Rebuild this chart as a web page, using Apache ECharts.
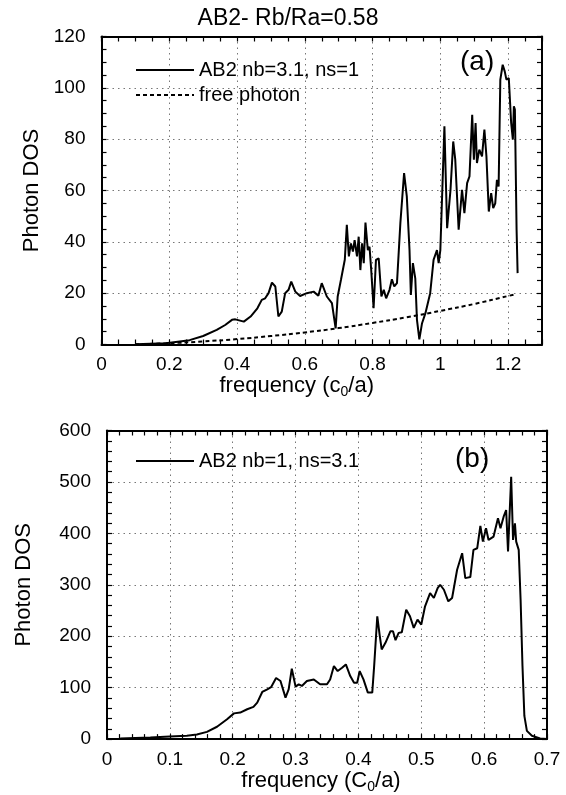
<!DOCTYPE html>
<html>
<head>
<meta charset="utf-8">
<script src="https://cdn.jsdelivr.net/npm/echarts@6/dist/echarts.min.js"></script>
<style>
html,body{margin:0;padding:0;background:#fff;}
#chart{width:566px;height:795px;}
</style>
</head>
<body>
<div id="chart"></div>
<script>
// ---- Data ----
var titleText = 'AB2- Rb/Ra=0.58';

// panel (a)
var freqA = [0.10,0.19,0.26,0.30,0.34,0.365,0.385,0.395,0.42,0.44,0.46,0.473,0.483,0.493,0.503,0.513,0.522,0.532,0.542,0.552,0.56,0.572,0.586,0.606,0.626,0.64,0.65,0.665,0.68,0.691,0.697,0.707,0.718,0.724,0.73,0.736,0.742,0.747,0.754,0.759,0.764,0.769,0.774,0.779,0.786,0.791,0.796,0.803,0.81,0.818,0.826,0.833,0.84,0.85,0.857,0.864,0.872,0.882,0.893,0.901,0.909,0.913,0.919,0.926,0.931,0.938,0.946,0.956,0.97,0.98,0.99,0.995,1.0,1.012,1.02,1.03,1.038,1.044,1.054,1.064,1.071,1.079,1.086,1.094,1.099,1.104,1.108,1.115,1.123,1.13,1.136,1.143,1.15,1.156,1.162,1.167,1.172,1.177,1.184,1.19,1.195,1.202,1.209,1.214,1.217,1.22,1.225,1.228];
var dosA = [0.1,0.5,1.7,3.3,5.7,7.6,9.6,9.8,8.9,10.9,14.1,17.4,18,20,24.1,22.6,10.9,12.8,20,21.3,24.5,20.6,18.9,20,20.6,19,23.9,18.7,16.1,6.3,18.7,25.4,33,46.6,34.3,39.4,36.2,40.7,34.3,42,29,39.4,31.7,47.5,36.8,38.1,29,14.1,33,33.6,18.7,21.3,18,21.3,25.4,22.6,23.9,47.3,66.8,57.7,36.8,19.3,31.7,25.8,9.6,2,8.3,12.2,20,33,36.8,31.7,36.8,85,45.3,60.3,79.1,72,44.7,60.3,51.2,62.9,65.5,89.5,72,86.3,70.7,75.9,73.3,83.7,73.3,51.8,59,53.1,55,64.2,61.6,103.2,109,106.4,103.2,103.8,86.3,79.8,92.8,91.5,44.7,27.8];
var freeFreq = [0.10,0.2,0.3,0.4,0.5,0.6,0.7,0.8,0.9,1.0,1.1,1.2,1.22];
var freeDos  = [0.1,0.5,1.2,2.1,3.3,4.7,6.4,8.4,10.6,13.1,15.8,18.9,19.5];

// panel (b)
var freqB = [0.021,0.069,0.1,0.127,0.143,0.159,0.175,0.191,0.202,0.204,0.212,0.223,0.233,0.239,0.247,0.255,0.261,0.269,0.276,0.284,0.289,0.294,0.3,0.305,0.31,0.318,0.329,0.339,0.35,0.355,0.361,0.367,0.374,0.38,0.387,0.393,0.398,0.402,0.408,0.415,0.422,0.425,0.43,0.434,0.437,0.443,0.451,0.455,0.459,0.464,0.469,0.476,0.482,0.488,0.494,0.5,0.506,0.514,0.52,0.526,0.53,0.536,0.543,0.549,0.557,0.565,0.57,0.578,0.583,0.589,0.594,0.598,0.603,0.607,0.615,0.622,0.626,0.631,0.635,0.638,0.643,0.646,0.649,0.651,0.655,0.658,0.661,0.664,0.668,0.676,0.689,0.7];
var dosB = [1.3,3.2,5,6.5,9,14,24,38.7,50,51.6,51.6,58,62.6,71,91.6,96.8,101,118.8,113,80.7,96.8,136.8,102,106.5,103.3,113,116,106.5,106.5,116,142,132.3,138.8,145.2,122.6,109.7,109.7,132.3,116,90.4,90.4,142,238.8,200,174.3,187.2,209.8,209.8,192.3,206.5,207.8,251.7,238.8,216.2,232.3,222.7,258.2,284,274.3,293.7,300.1,290.4,267.8,274.3,329.2,361.4,313,315,367.9,371.1,414.3,384,409.8,387.2,393.7,429.2,409.8,432.4,445.3,364.6,509.9,387.2,419.5,384,367.9,271,142,45,16,6.5,1.3,0];

var nameA = 'AB2 nb=3.1, ns=1';
var nameFree = 'free photon';
var nameB = 'AB2 nb=1, ns=3.1';

// ---- Chart ----
function zip(xs, ys){ var out=[]; for(var i=0;i<xs.length;i++) out.push([xs[i], ys[i]]); return out; }

var FONT = '"Liberation Sans", Arial, Helvetica, sans-serif';
var grids = [
  {left:101.5, top:36.5, width:440.5, height:308},
  {left:107, top:430.5, width:440, height:309.5}
];
var xr = [{max:1.3, major:0.2, minor:0.05}, {max:0.7, major:0.1, minor:0.02}];
var yr = [{max:120, major:20, minor:5}, {max:600, major:100, minor:20}];

var splitStyle = {show:true, lineStyle:{color:'#777', width:1, type:[1.5,4]}};
var axisLineStyle = {show:true, onZero:false, lineStyle:{color:'#000', width:2}};
var tickStyle = {show:true, inside:true, length:5, lineStyle:{color:'#000', width:1.2}};

var xAxes = [], yAxes = [];
[0,1].forEach(function(g){
  var xmax = xr[g].max;
  var xnames = [
    {rich:'{a|frequency (c}{s|0}{a|/a)}', gap:24, pad:[0,50,0,0]},
    {rich:'{a|frequency (C}{s|0}{a|/a)}', gap:18, pad:[0,12,0,0]}
  ];
  // main x axis: labels + grid lines
  xAxes.push({
    gridIndex:g, type:'value', position:'bottom', min:0, max:xmax, interval:xr[g].major,
    axisLine:axisLineStyle, axisTick:{show:false}, splitLine:splitStyle,
    axisLabel:{color:'#000', fontSize:19, fontFamily:FONT, margin:11,
      formatter:function(v){ return (Math.abs(v-xmax)<1e-9 && g===0) ? '' : String(+v.toFixed(2)); }},
    name:xnames[g].rich, nameLocation:'middle', nameGap:xnames[g].gap,
    nameTextStyle:{color:'#000', fontFamily:FONT, padding:xnames[g].pad,
      rich:{a:{fontSize:22, lineHeight:26, fontFamily:FONT, color:'#000'},
            s:{fontSize:14, lineHeight:14, verticalAlign:'bottom', fontFamily:FONT, color:'#000'}}}
  });
  // bottom minor ticks
  xAxes.push({
    gridIndex:g, type:'value', position:'bottom', min:0, max:xmax, interval:xr[g].minor,
    axisLine:{show:false}, axisTick:tickStyle, axisLabel:{show:false}, splitLine:{show:false}
  });
  // top border + ticks
  xAxes.push({
    gridIndex:g, type:'value', position:'top', min:0, max:xmax, interval:xr[g].minor,
    axisLine:axisLineStyle, axisTick:tickStyle, axisLabel:{show:false}, splitLine:{show:false}
  });

  var ymax = yr[g].max;
  yAxes.push({
    gridIndex:g, type:'value', position:'left', min:0, max:ymax, interval:yr[g].major,
    axisLine:axisLineStyle, axisTick:{show:false}, splitLine:splitStyle,
    axisLabel:{color:'#000', fontSize:19, fontFamily:FONT, margin:16},
    name:'Photon DOS', nameLocation:'middle', nameGap:(g===0?55:72),
    nameTextStyle:{color:'#000', fontSize:22, fontFamily:FONT}
  });
  yAxes.push({
    gridIndex:g, type:'value', position:'left', min:0, max:ymax, interval:yr[g].minor,
    axisLine:{show:false}, axisTick:tickStyle, axisLabel:{show:false}, splitLine:{show:false}
  });
  yAxes.push({
    gridIndex:g, type:'value', position:'right', min:0, max:ymax, interval:yr[g].minor,
    axisLine:axisLineStyle, axisTick:tickStyle, axisLabel:{show:false}, splitLine:{show:false}
  });
});

var legendCommon = {
  orient:'vertical', left:130, itemWidth:58, itemHeight:20, itemGap:5, selectedMode:false,
  itemStyle:{opacity:0},
  textStyle:{fontSize:20, color:'#000', fontFamily:FONT, lineHeight:20}
};

var option = {
  backgroundColor:'#fff',
  animation:false,
  title:[
    {text:titleText, left:283, top:2, textAlign:'center',
     textStyle:{fontSize:23, fontWeight:'normal', color:'#000', fontFamily:FONT}},
    {text:'(a)', left:455, top:43,
     textStyle:{fontSize:28, fontWeight:'normal', color:'#000', fontFamily:FONT}},
    {text:'(b)', left:450, top:440,
     textStyle:{fontSize:28, fontWeight:'normal', color:'#000', fontFamily:FONT}}
  ],
  grid:grids,
  legend:[
    Object.assign({}, legendCommon, {data:[nameA, nameFree], top:55}),
    Object.assign({}, legendCommon, {data:[nameB], top:446})
  ],
  xAxis:xAxes,
  yAxis:yAxes,
  series:[
    {name:nameA, type:'line', xAxisIndex:0, yAxisIndex:0, data:zip(freqA, dosA), symbol:'none',
     lineStyle:{color:'#000', width:2}, itemStyle:{color:'#000'}, z:3},
    {name:nameFree, type:'line', xAxisIndex:0, yAxisIndex:0, data:zip(freeFreq, freeDos), symbol:'none', smooth:true,
     lineStyle:{color:'#000', width:2, type:[4,3]}, itemStyle:{color:'#000'}, z:2},
    {name:nameB, type:'line', xAxisIndex:3, yAxisIndex:3, data:zip(freqB, dosB), symbol:'none',
     lineStyle:{color:'#000', width:2}, itemStyle:{color:'#000'}, z:3}
  ]
};

var chart = echarts.init(document.getElementById('chart'), null, {renderer:'canvas'});
chart.setOption(option);
</script>
</body>
</html>
